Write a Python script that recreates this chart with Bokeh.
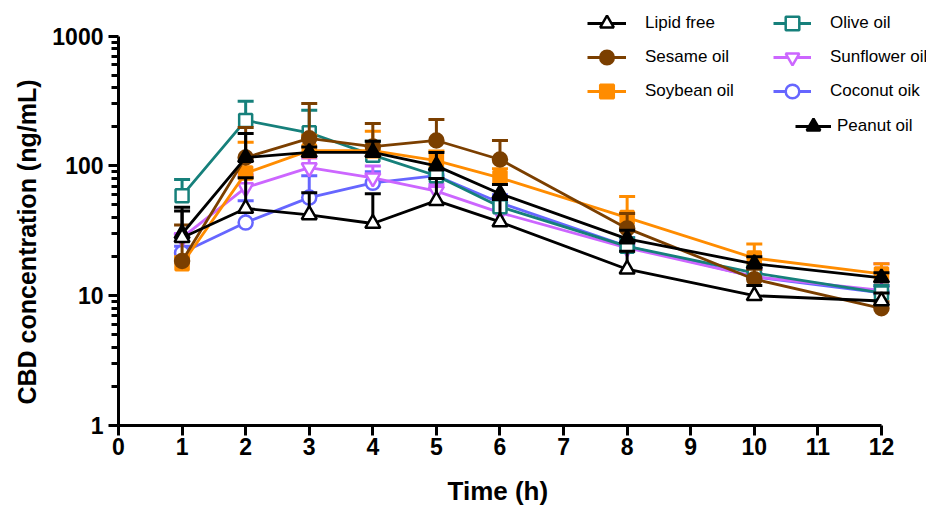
from bokeh.plotting import figure
from bokeh.models import FixedTicker, Legend, LegendItem, PrintfTickFormatter, Range1d, Title
from bokeh.embed import file_html
from bokeh.resources import INLINE

times = [1, 2, 3, 4, 5, 6, 8, 10, 12]

lipid_free = [28, 47, 42, 36, 54, 37, 16, 10, 9.1]
lipid_free_up = [45, 81, 62, 61, 80, 55, 22, 12, 10.5]

sesame = [18.5, 116, 163, 141, 157, 112, 33, 13.4, 8.0]
sesame_up = [35, 198, 303, 212, 228, 157, 43, 16, 9.0]

soybean = [17.6, 88, 131, 131, 110, 81, 40, 19.5, 14.7]
soybean_up = [20, 152, 172, 185, 130, 95, 58, 25, 17.6]

olive = [59, 224, 180, 121, 84, 48.5, 24, 15, 10.5]
olive_up = [78.5, 315, 268, 155, 95, 55, 28, 17, 12]

sunflower = [28, 68, 97, 81, 64, 43.6, 23.4, 14, 11]
sunflower_up = [30, 85, 115, 100, 72, 50, 27, 16, 17.6]

coconut = [21.4, 36.6, 57, 74, 84, 52, 24, 14, 10.5]
coconut_up = [24, 54, 84, 90, 92, 60, 28, 16, 12]

peanut = [30, 116, 127, 127, 100, 61, 27.4, 17.6, 13.7]
peanut_up = [48, 178, 140, 155, 127, 72, 32, 20, 15]

x_ticks = [0, 1, 2, 3, 4, 5, 6, 7, 8, 9, 10, 11, 12]
y_ticks = [1, 10, 100, 1000]
y_minor = [m * d for d in (1, 10, 100) for m in range(2, 10)]

FONT = "Liberation Sans"

# layout: frame spans whole upper area so the legend (above the 1000 line) is not clipped
FRAME_W, FRAME_H = 808, 425
PX_PER_HOUR = 63.58
PX_PER_DECADE = 129.8

p = figure(frame_width=FRAME_W, frame_height=FRAME_H, y_axis_type="log",
           x_range=Range1d(0, FRAME_W / PX_PER_HOUR),
           y_range=Range1d(1, 10 ** (FRAME_H / PX_PER_DECADE)),
           output_backend="svg", toolbar_location=None,
           min_border_left=118, min_border_top=0, min_border_bottom=80,
           min_border_right=0)
p.grid.visible = False
p.outline_line_color = None

series = [
    ("Lipid free", lipid_free, lipid_free_up, "#000000", "triangle", False),
    ("Sesame oil", sesame, sesame_up, "#7B3F00", "circle", True),
    ("Soybean oil", soybean, soybean_up, "#FF8C00", "square", True),
    ("Olive oil", olive, olive_up, "#16807B", "square", False),
    ("Sunflower oil", sunflower, sunflower_up, "#CC66FF", "inverted_triangle", False),
    ("Coconut oik", coconut, coconut_up, "#6666FF", "circle", False),
    ("Peanut oil", peanut, peanut_up, "#000000", "triangle", True),
]
sizes = {"triangle": 15, "inverted_triangle": 15, "circle": 14, "square": 13}
draw_order = [5, 4, 3, 2, 1, 6, 0]
renderers = {}
for i in draw_order:
    name, vals, ups, color, marker, filled = series[i]
    p.segment(x0=times, y0=vals, x1=times, y1=ups, line_color=color, line_width=3)
    p.scatter(x=times, y=ups, marker="dash", size=16, line_color=color, line_width=3)
    lr = p.line(x=times, y=vals, line_color=color, line_width=2.8)
    sr = p.scatter(x=times, y=vals, marker=marker, size=sizes[marker],
                   line_color=color, line_width=2.5,
                   fill_color=color if filled else "white")
    renderers[i] = [lr, sr]

def make_legend(idx, loc, glyph_w, standoff):
    items = [LegendItem(label=series[i][0], renderers=renderers[i]) for i in idx]
    lg = Legend(items=items, location=loc, glyph_width=glyph_w, glyph_height=34,
                label_height=34, label_standoff=standoff, spacing=0, padding=0,
                margin=0, border_line_color=None, background_fill_alpha=0,
                label_text_font=FONT, label_text_font_size="17px",
                label_text_color="#000000")
    return lg

p.add_layout(make_legend([0, 1, 2], (469, 317), 39, 19), "center")
p.add_layout(make_legend([3, 4, 5], (655, 317), 38, 19), "center")
p.add_layout(make_legend([6], (677, 282), 36, 6), "center")

p.xaxis.ticker = FixedTicker(ticks=x_ticks)
p.xaxis.bounds = (0, 12)
p.yaxis.ticker = FixedTicker(ticks=y_ticks, minor_ticks=y_minor)
p.yaxis.bounds = (1, 1000)
p.yaxis.formatter = PrintfTickFormatter(format="%d")

for ax in (p.xaxis[0], p.yaxis[0]):
    ax.axis_line_width = 3
    ax.axis_line_color = "black"
    ax.major_tick_line_width = 3
    ax.major_tick_line_color = "black"
    ax.major_tick_in = 0
    ax.major_tick_out = 10
    ax.minor_tick_line_width = 3
    ax.minor_tick_line_color = "black"
    ax.minor_tick_in = 0
    ax.major_label_text_font = FONT
    ax.major_label_text_font_style = "bold"
    ax.major_label_text_font_size = "23px"
    ax.major_label_text_color = "black"

p.yaxis.minor_tick_out = 7
p.yaxis.major_tick_out = 10
p.xaxis.minor_tick_out = 0
p.yaxis.major_label_standoff = 5
p.xaxis.major_label_standoff = 2

# axis titles, placed along the visible axis extent (not the whole frame)
ytitle = Title(text="CBD concentration (ng/mL)", align="left", offset=21,
               vertical_align="middle", standoff=16,
               text_font=FONT, text_font_style="bold", text_font_size="25px",
               text_color="black")
p.add_layout(ytitle, "left")
xtitle = Title(text="Time (h)", align="left", offset=329,
               vertical_align="middle", standoff=34,
               text_font=FONT, text_font_style="bold", text_font_size="26px",
               text_color="black")
p.add_layout(xtitle, "below")

open("out.html", "w").write(file_html(p, INLINE))
